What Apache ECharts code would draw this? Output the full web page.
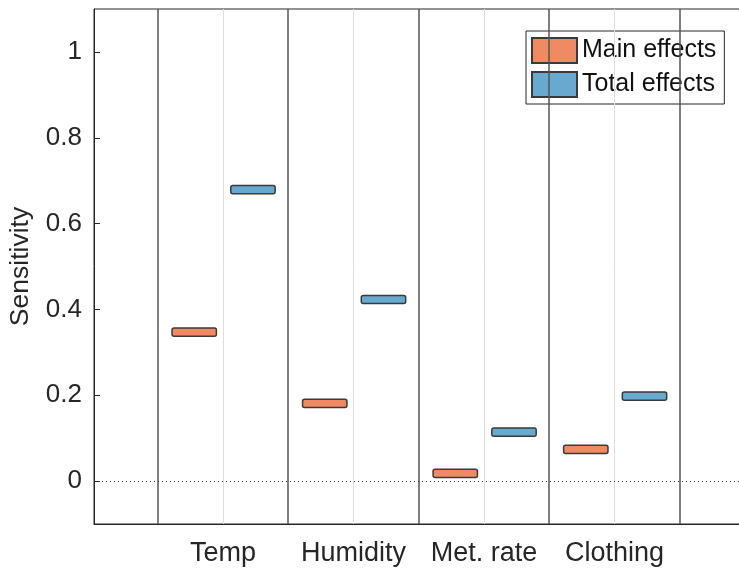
<!DOCTYPE html>
<html>
<head>
<meta charset="utf-8">
<style>
  html, body { margin: 0; padding: 0; background: #fff; }
  #chart { width: 739px; height: 570px; }
</style>
<script src="https://cdn.jsdelivr.net/npm/echarts@6/dist/echarts.min.js"></script>
</head>
<body>
<div id="chart"></div>
<script>
// Sensitivity indices per input parameter
const categories = ['Temp', 'Humidity', 'Met. rate', 'Clothing'];
const mainEffects = [0.347, 0.181, 0.018, 0.074];
const totalEffects = [0.679, 0.423, 0.114, 0.198];
const yTicks = [0, 0.2, 0.4, 0.6, 0.8, 1];

const FONT = '"Liberation Sans", Arial, sans-serif';
const TEXT = '#262626';
const BAND = 0.0095;      // half height of each estimate box
const BOX_W = 0.34;       // box width in axis units
const ORANGE = '#ef8a62';
const BLUE = '#67a9cf';

function boxData(values, offset) {
  return values.map((v, i) => [i + 1 + offset, v - BAND, v + BAND]);
}

function renderBox(params, api) {
  const x = api.value(0);
  const p0 = api.coord([x, api.value(2)]);
  const p1 = api.coord([x, api.value(1)]);
  const w = api.size([BOX_W, 0])[0];
  return {
    type: 'rect',
    shape: { x: p0[0] - w / 2, y: p0[1], width: w, height: p1[1] - p0[1], r: 2 },
    style: api.style({ lineWidth: 1.5, stroke: '#3a3a3a' })
  };
}

// separators between groups and faint centre lines
const separators = categories.map((c, i) => i + 0.5).concat([categories.length + 0.5]);
const centres = categories.map((c, i) => i + 1);

const chart = echarts.init(document.getElementById('chart'), null, { renderer: 'canvas' });
chart.setOption({
  animation: false,
  backgroundColor: '#fff',
  textStyle: { fontFamily: FONT, color: TEXT },
  grid: {
    left: 94, top: 9, width: 651, height: 515,
    outerBoundsMode: 'none', containLabel: false,
    show: true, borderColor: TEXT, borderWidth: 1, backgroundColor: 'transparent'
  },
  legend: {
    orient: 'vertical',
    left: 526, top: 31,
    padding: [6, 8, 6, 5],
    itemWidth: 45, itemHeight: 25, itemGap: 7,
    backgroundColor: '#fff',
    borderColor: TEXT, borderWidth: 1,
    icon: 'rect',
    textStyle: { fontFamily: FONT, fontSize: 25, color: '#111' },
    data: ['Main effects', 'Total effects']
  },
  xAxis: {
    type: 'value', min: 0.012, max: 5,
    axisLine: { show: true, onZero: false, lineStyle: { color: TEXT, width: 1 } },
    axisTick: { show: true, inside: true, length: 6, customValues: centres, lineStyle: { color: TEXT } },
    splitLine: { show: false },
    axisLabel: {
      margin: 16, fontSize: 27, fontFamily: FONT, color: TEXT,
      customValues: centres,
      formatter: v => categories[Math.round(v) - 1] || ''
    }
  },
  yAxis: {
    type: 'value', min: -0.1, max: 1.1,
    name: 'Sensitivity', nameLocation: 'middle', nameGap: 60,
    nameTextStyle: { fontSize: 26.5, fontFamily: FONT, color: TEXT },
    axisLine: { show: true, onZero: false, lineStyle: { color: TEXT, width: 1 } },
    axisTick: { show: true, inside: true, length: 6, customValues: yTicks, lineStyle: { color: TEXT } },
    splitLine: { show: false },
    axisLabel: {
      margin: 12, fontSize: 26, fontFamily: FONT, color: TEXT,
      customValues: yTicks,
      formatter: v => String(Math.round(v * 10) / 10)
    }
  },
  series: [
    {
      name: 'guides',
      type: 'line',
      data: [],
      silent: true,
      markLine: {
        silent: true,
        symbol: 'none',
        label: { show: false },
        animation: false,
        data: [
          ...centres.map(x => ({ xAxis: x, lineStyle: { color: '#dedede', width: 1, type: 'solid' } })),
          ...separators.map(x => ({ xAxis: x, lineStyle: { color: '#555', width: 1.5, type: 'solid' } })),
          { yAxis: 0, lineStyle: { color: '#333', width: 1, type: [1, 3] } }
        ]
      }
    },
    {
      name: 'Main effects',
      type: 'custom',
      renderItem: renderBox,
      itemStyle: { color: ORANGE, borderColor: '#3a3a3a', borderWidth: 1.5 },
      encode: { x: 0, y: [1, 2] },
      data: boxData(mainEffects, -0.22),
      z: 5
    },
    {
      name: 'Total effects',
      type: 'custom',
      renderItem: renderBox,
      itemStyle: { color: BLUE, borderColor: '#3a3a3a', borderWidth: 1.5 },
      encode: { x: 0, y: [1, 2] },
      data: boxData(totalEffects, 0.23),
      z: 5
    }
  ]
});
</script>
</body>
</html>
